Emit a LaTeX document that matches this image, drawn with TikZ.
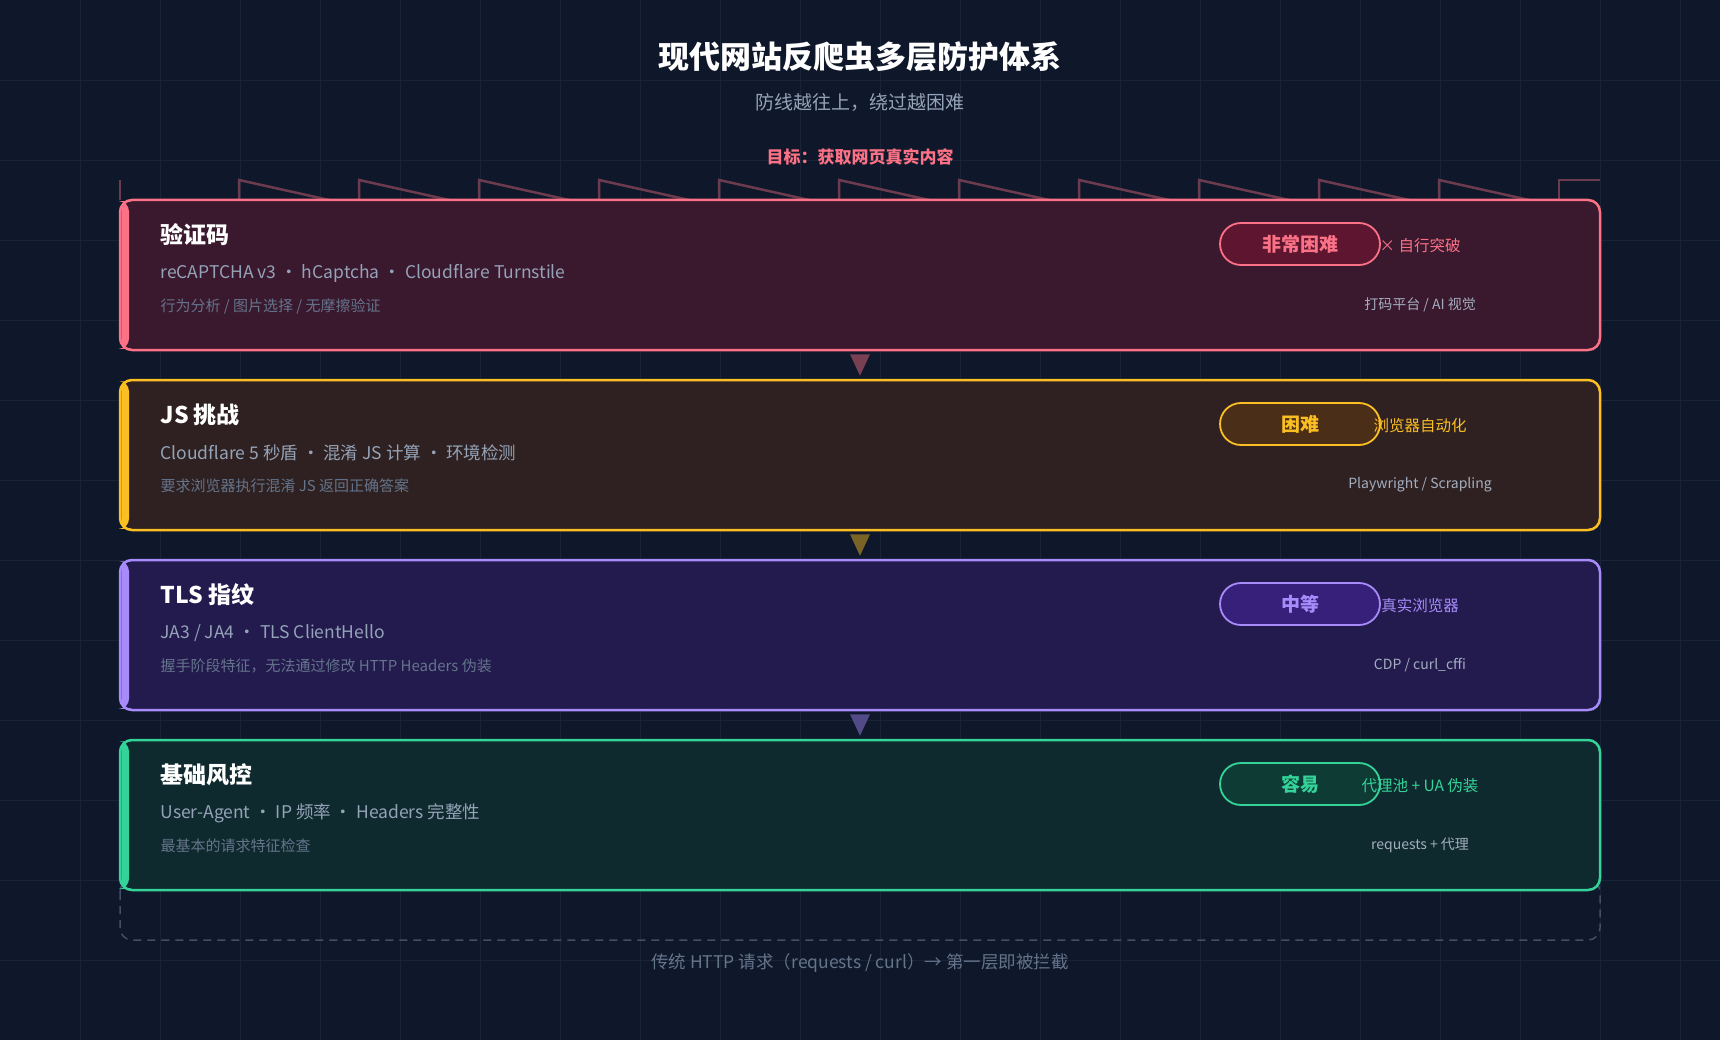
\documentclass[tikz,border=0pt]{standalone}
\usepackage{fontspec}
\setmainfont{Noto Sans CJK SC}
\usetikzlibrary{calc}
\definecolor{bg}{HTML}{0F172A}
\definecolor{gridc}{HTML}{1A2438}
\definecolor{subc}{HTML}{94A3B8}
\definecolor{dimc}{HTML}{64748B}
\definecolor{sidec}{HTML}{A3AEBF}
\definecolor{pinkc}{HTML}{FB7185}\definecolor{pinkf}{HTML}{3A182E}\definecolor{pinkb}{HTML}{5E1530}
\definecolor{yelc}{HTML}{FBBF24}\definecolor{yelf}{HTML}{2F2121}\definecolor{yelb}{HTML}{4B2E17}
\definecolor{purc}{HTML}{A78BFA}\definecolor{purf}{HTML}{231A4E}\definecolor{purb}{HTML}{36207A}
\definecolor{grnc}{HTML}{34D399}\definecolor{grnf}{HTML}{0F2A2E}\definecolor{grnb}{HTML}{0E3C35}
\tikzset{x=1pt, y=-1pt,
  layer box/.style={draw=#1c, fill=#1f, line width=2.5pt, rounded corners=12pt,
    minimum width=1480pt, minimum height=150pt, inner sep=0pt},
  layer title/.style={right, text=white, font=\fontsize{23}{26}\selectfont\bfseries},
  layer sub/.style={right, text=subc, font=\fontsize{17.5}{20}\selectfont},
  layer note/.style={right, text=dimc, font=\fontsize{15}{18}\selectfont},
  badge/.style={draw=#1c, fill=#1b, text=#1c, line width=1.8pt, rounded corners=21pt,
    minimum width=160pt, minimum height=42pt, font=\fontsize{19}{22}\selectfont\bfseries},
  side tag/.style={text=#1c, font=\fontsize{15.5}{18}\selectfont},
  side note/.style={text=sidec, font=\fontsize{14}{17}\selectfont}
}
% #1 name, #2 top y, #3 colour, #4 title, #5 line, #6 note, #7 badge, #8 tag, #9 tool
\def\Layer#1#2#3#4#5#6#7#8#9{%
  \node[layer box=#3] (#1) at (860,#2+75) {};
  \fill[#3c, rounded corners=10pt] (121.25,#2+1.25) -- (129,#2+1.25) -- (129,#2+148.75) -- (121.25,#2+148.75) -- cycle;
  \node[layer title] (#1-title) at (157,#2+35) {#4};
  \node[layer sub] (#1-sub) at (157,#2+73) {#5};
  \node[layer note] (#1-note) at (157,#2+106) {#6};
  \node[badge=#3] (#1-badge) at (1300,#2+44) {#7};
  \node[side tag=#3] (#1-tag) at (1420,#2+46) {#8};
  \node[side note] (#1-tool) at (1420,#2+105) {#9};
}
\def\Step#1#2#3{%
  \fill[#3c!45!bg] ($(#1.south)+(-10,3)$) -- ($(#1.south)+(10,3)$) -- ($(#2.north)+(0,-3)$) -- cycle;
}

\begin{document}
\begin{tikzpicture}
\fill[bg] (0,0) rectangle (1720,1040);
\useasboundingbox (0,0) rectangle (1720,1040);
\foreach \x in {80,160,...,1680}
  \draw[gridc, line width=0.8pt] (\x,0) -- (\x,1040);
\foreach \y in {80,160,...,1000}
  \draw[gridc, line width=0.8pt] (0,\y) -- (1720,\y);

\node[text=white, font=\fontsize{31}{34}\selectfont\bfseries] (title) at (860,57) {现代网站反爬虫多层防护体系};
\node[text=subc, font=\fontsize{19}{22}\selectfont] (subtitle) at (860,103) {防线越往上，绕过越困难};
\node[text=pinkc, font=\fontsize{17}{20}\selectfont\bfseries] (goal) at (860,157) {目标：获取网页真实内容};

% battlement
\draw[pinkc!40!bg, line width=2.5pt] (120,180) -- (120,200);
\foreach \x in {239,359,...,1439}
  \draw[pinkc!40!bg, line width=2.5pt] (\x,200) -- (\x,180) -- (\x+90,200);
\draw[pinkc!40!bg, line width=2.5pt] (1559,200) -- (1559,180) -- (1600,180);

% fallback frame
\draw[dimc!60!bg, line width=1.5pt, dash pattern=on 8pt off 6pt, rounded corners=12pt]
  (120,880) rectangle (1600,940);

\Layer{captcha}{200}{pink}{验证码}{reCAPTCHA v3 · hCaptcha · Cloudflare Turnstile}{行为分析 / 图片选择 / 无摩擦验证}{非常困难}{× 自行突破}{打码平台 / AI 视觉}
\Layer{js}{380}{yel}{JS 挑战}{Cloudflare 5 秒盾 · 混淆 JS 计算 · 环境检测}{要求浏览器执行混淆 JS 返回正确答案}{困难}{浏览器自动化}{Playwright / Scrapling}
\Layer{tls}{560}{pur}{TLS 指纹}{JA3 / JA4 · TLS ClientHello}{握手阶段特征，无法通过修改 HTTP Headers 伪装}{中等}{真实浏览器}{CDP / curl\_cffi}
\Layer{base}{740}{grn}{基础风控}{User-Agent · IP 频率 · Headers 完整性}{最基本的请求特征检查}{容易}{代理池 + UA 伪装}{requests + 代理}

\Step{captcha}{js}{pink}
\Step{js}{tls}{yel}
\Step{tls}{base}{pur}

\node[text=dimc, font=\fontsize{17.5}{20}\selectfont] (fallback) at (860,963) {传统 HTTP 请求（requests / curl）→ 第一层即被拦截};
\end{tikzpicture}
\end{document}
